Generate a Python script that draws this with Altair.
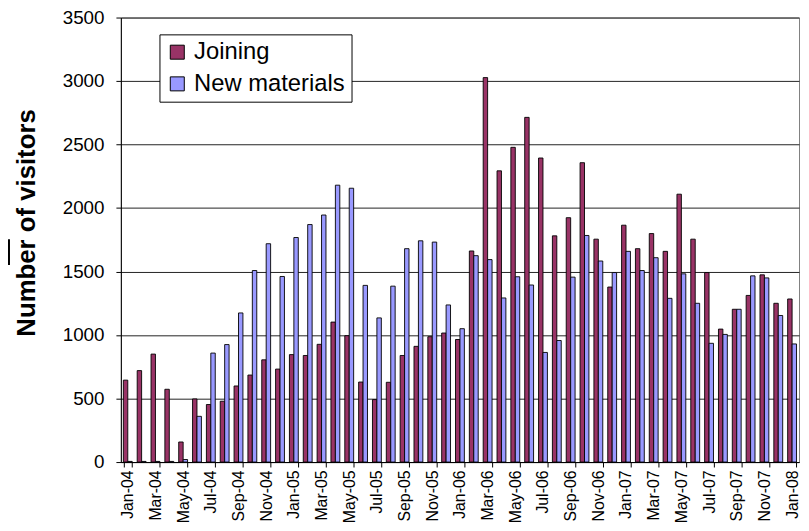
import altair as alt
import pandas as pd

months = [
    "Jan-04", "Feb-04", "Mar-04", "Apr-04", "May-04", "Jun-04", "Jul-04", "Aug-04", "Sep-04", "Oct-04", "Nov-04", "Dec-04",
    "Jan-05", "Feb-05", "Mar-05", "Apr-05", "May-05", "Jun-05", "Jul-05", "Aug-05", "Sep-05", "Oct-05", "Nov-05", "Dec-05",
    "Jan-06", "Feb-06", "Mar-06", "Apr-06", "May-06", "Jun-06", "Jul-06", "Aug-06", "Sep-06", "Oct-06", "Nov-06", "Dec-06",
    "Jan-07", "Feb-07", "Mar-07", "Apr-07", "May-07", "Jun-07", "Jul-07", "Aug-07", "Sep-07", "Oct-07", "Nov-07", "Dec-07",
    "Jan-08",
]

joining = [
    645, 720, 850, 573, 158, 497, 453, 479, 599, 685, 805, 732,
    846, 839, 927, 1102, 995, 630, 492, 628, 839, 911, 987, 1016,
    965, 1662, 3027, 2293, 2478, 2714, 2394, 1781, 1924, 2357, 1755, 1378,
    1865, 1680, 1799, 1659, 2109, 1755, 1492, 1047, 1203, 1312, 1474, 1250,
    1284,
]

new_materials = [
    5, 5, 5, 5, 20, 360, 858, 925, 1174, 1508, 1719, 1461,
    1768, 1870, 1945, 2180, 2156, 1391, 1135, 1385, 1680, 1742, 1732, 1237,
    1050, 1625, 1594, 1292, 1459, 1394, 863, 957, 1456, 1784, 1583, 1492,
    1659, 1508, 1609, 1289, 1482, 1250, 935, 1005, 1203, 1466, 1450, 1154,
    930,
]

series_names = ["Joining", "New materials"]
series_colors = ["#993366", "#9999FF"]
y_ticks = [0, 500, 1000, 1500, 2000, 2500, 3000, 3500]
label_months = months[::2]

rows = []
for i, m in enumerate(months):
    rows.append({"month": m, "series": series_names[0], "value": joining[i]})
    rows.append({"month": m, "series": series_names[1], "value": new_materials[i]})
df = pd.DataFrame(rows)

FONT = "Liberation Sans"

bars = alt.Chart(df).mark_bar(stroke="black", strokeWidth=1, strokeOpacity=0.9).encode(
    x=alt.X(
        "month:N",
        sort=months,
        scale=alt.Scale(paddingInner=0.36, paddingOuter=0.18),
        axis=alt.Axis(
            values=label_months,
            labelAngle=270,
            labelAlign="right",
            labelBaseline="middle",
            labelFontSize=16,
            labelFont=FONT,
            labelColor="black",
            labelPadding=3,
            labelOverlap=False,
            tickBand="extent",
            tickColor="black",
            tickSize=5,
            domainColor="black",
            grid=False,
            title=None,
        ),
    ),
    xOffset=alt.XOffset("series:N", sort=series_names, scale=alt.Scale(paddingInner=0, paddingOuter=0)),
    y=alt.Y(
        "value:Q",
        scale=alt.Scale(domain=[0, 3500]),
        axis=alt.Axis(
            values=y_ticks,
            format="d",
            labelFontSize=19,
            labelFont=FONT,
            labelColor="black",
            labelPadding=12,
            tickColor="black",
            tickSize=5,
            domainColor="black",
            gridColor="#222222",
            gridWidth=1,
            title="Number of visitors",
            titleFont=FONT,
            titleFontSize=26,
            titleFontWeight="bold",
            titleColor="black",
            titleAngle=270,
            titleX=-95,
            titleY=207,
            titleAlign="center",
            titleBaseline="middle",
        ),
    ),
    fill=alt.Fill(
        "series:N",
        scale=alt.Scale(domain=series_names, range=series_colors),
        legend=alt.Legend(
            orient="none",
            legendX=39,
            legendY=17,
            title=None,
            direction="vertical",
            padding=6,
            strokeColor="black",
            fillColor="white",
            labelFont=FONT,
            labelFontSize=24,
            labelColor="black",
            labelOffset=5,
            rowPadding=8,
            symbolType="square",
            symbolSize=200,
            symbolStrokeColor="black",
            symbolStrokeWidth=1,
            symbolOpacity=1,
        ),
    ),
)

dash = alt.Chart(pd.DataFrame({"k": [0]})).mark_rule(color="black", strokeWidth=2).encode(
    x=alt.value(-113),
    y=alt.value(224),
    y2=alt.value(250),
)

chart = alt.layer(bars, dash).properties(
    width=685,
    height=449,
    padding={"left": 114, "top": 7, "right": 2, "bottom": 66},
    autosize=alt.AutoSizeParams(type="none"),
    background="white",
).configure_view(stroke="#808080", strokeWidth=1)

chart.save("out.html", embed_options={"renderer": "svg", "actions": False})
